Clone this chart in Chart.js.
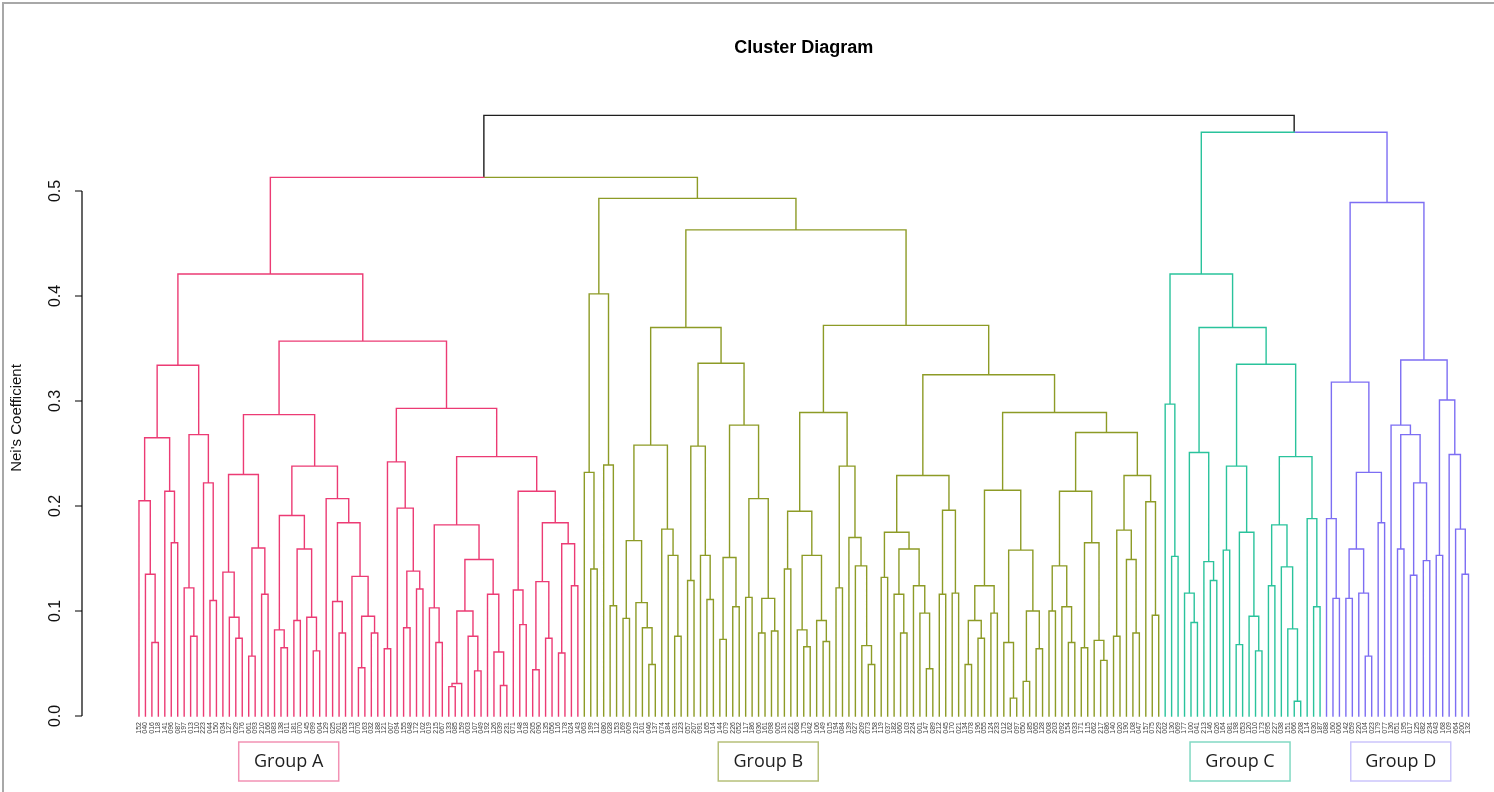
<!DOCTYPE html>
<html>
<head>
<meta charset="utf-8">
<title>Cluster Diagram</title>
<script src="https://cdn.jsdelivr.net/npm/chart.js@4.4.1/dist/chart.umd.min.js"></script>
<style>
  html, body { margin: 0; padding: 0; background: #fff; }
  #clusterChart { display: block; }
</style>
</head>
<body>
<canvas id="clusterChart" width="1494" height="792"></canvas>
<script>
// ===== Data =====
// leaf labels, left to right as they appear under the tree
const leafLabels = (
    '152 040 016 118 141 096 087 197 013 110 223 044 150 034 127 029 176 061 093 210 166 083 138 ' +
    '011 181 070 145 099 004 129 025 201 058 113 076 163 032 188 121 007 094 155 048 172 102 019 ' +
    '215 067 133 085 159 003 107 049 192 126 039 231 071 148 018 205 090 135 056 116 178 024 143 ' +
    '063 199 112 080 028 153 169 009 219 101 046 137 074 184 031 123 057 207 091 165 014 144 079 ' +
    '226 052 117 186 036 161 098 005 131 221 068 175 042 106 149 015 194 084 139 027 209 073 158 ' +
    '119 037 182 060 103 224 001 147 089 212 045 170 021 134 078 196 055 124 233 012 162 097 050 ' +
    '185 065 128 008 203 092 154 033 171 115 062 217 086 140 020 190 108 047 157 075 229 002 130 ' +
    '069 177 100 041 213 146 026 164 081 198 053 120 010 173 095 227 038 151 066 208 114 030 187 ' +
    '088 160 006 142 059 220 104 023 179 077 136 051 195 017 125 082 234 043 168 109 064 200 132'
).split(' ');

const groupNames = ['Group A', 'Group B', 'Group C', 'Group D'];

// sub-clusters: x = leaf, (left,right)h = merge at Nei's coefficient h
const a1 = '((x,(x,(x,x)0.070)0.135)0.205,(x,(x,x)0.165)0.214)0.265';
const a2 = '((x,(x,x)0.076)0.122,(x,(x,x)0.110)0.222)0.268';
const a3 = '((x,(x,(x,x)0.074)0.094)0.137,((x,x)0.057,(x,x)0.116)0.160)0.230';
const a4 = '((x,(x,x)0.065)0.082,((x,x)0.091,(x,(x,x)0.062)0.094)0.159)0.191';
const a5 = '(x,((x,(x,x)0.079)0.109,(x,((x,x)0.046,(x,x)0.079)0.095)0.133)0.184)0.207';
const a6 = '((x,x)0.064,(x,((x,x)0.084,(x,x)0.121)0.138)0.198)0.242';
const a7 = '((x,(x,x)0.070)0.103,((((x,x)0.028,x)0.031,(x,(x,x)0.043)0.076)0.100,(x,(x,(x,x)0.029)0.061)0.116)0.149)0.182';
const a8 = '((x,(x,x)0.087)0.120,(((x,x)0.044,(x,x)0.074)0.128,((x,x)0.060,(x,x)0.124)0.164)0.184)0.214';

const b1 = '((x,(x,x)0.140)0.232,(x,(x,x)0.105)0.239)0.402';
const b2 = '(((x,x)0.093,(x,(x,(x,x)0.049)0.084)0.108)0.167,(x,(x,(x,x)0.076)0.153)0.178)0.258';
const b3 = '((x,x)0.129,(x,(x,x)0.111)0.153)0.257';
const b4 = '(((x,x)0.073,(x,x)0.104)0.151,((x,x)0.113,((x,x)0.079,(x,x)0.081)0.112)0.207)0.277';
const b5 = '((x,x)0.140,((x,(x,x)0.066)0.082,(x,(x,x)0.071)0.091)0.153)0.195';
const b6 = '((x,x)0.122,(x,(x,(x,(x,x)0.049)0.067)0.143)0.170)0.238';
const b7 = '(((x,x)0.132,((x,(x,x)0.079)0.116,(x,(x,(x,x)0.045)0.098)0.124)0.159)0.175,((x,x)0.116,(x,x)0.117)0.196)0.229';
const b8 = '((((x,x)0.049,(x,x)0.074)0.091,(x,x)0.098)0.124,((x,(x,x)0.017)0.070,((x,x)0.033,(x,x)0.064)0.100)0.158)0.215';
const b9 = '((((x,x)0.100,(x,(x,x)0.070)0.104)0.143,((x,x)0.065,(x,(x,x)0.053)0.072)0.165)0.214,(((x,x)0.076,(x,(x,x)0.079)0.149)0.177,(x,(x,x)0.096)0.204)0.229)0.270';

const c1 = '(x,(x,x)0.152)0.297';
const c2 = '((x,(x,x)0.089)0.117,(x,(x,x)0.129)0.147)0.251';
const c3 = '((x,x)0.158,((x,x)0.068,(x,(x,x)0.062)0.095)0.175)0.238';
const c4 = '(((x,x)0.124,(x,(x,(x,x)0.014)0.083)0.142)0.182,(x,(x,x)0.104)0.188)0.247';

const d1 = '(x,(x,x)0.112)0.188';
const d2 = '(((x,x)0.112,(x,(x,x)0.057)0.117)0.159,(x,x)0.184)0.232';
const d3 = '(x,((x,x)0.159,((x,x)0.134,(x,x)0.148)0.222)0.268)0.277';
const d4 = '((x,x)0.153,(x,(x,(x,x)0.135)0.178)0.249)0.301';

// upper merges
const join = (l, r, h) => `(${l},${r})${h.toFixed(3)}`;
const treeA = join(join(a1, a2, 0.334), join(join(a3, join(a4, a5, 0.238), 0.287), join(a6, join(a7, a8, 0.247), 0.293), 0.357), 0.421);
const treeB = join(b1, join(join(b2, join(b3, b4, 0.336), 0.370), join(join(b5, b6, 0.289), join(b7, join(b8, b9, 0.289), 0.325), 0.372), 0.463), 0.493);
const treeC = join(c1, join(c2, join(c3, c4, 0.335), 0.370), 0.421);
const treeD = join(join(d1, d2, 0.318), join(d3, d4, 0.339), 0.489);
const treeTop = join(join('A', 'B', 0.513), join('C', 'D', 0.556), 0.572);

const yTicks = [0.0, 0.1, 0.2, 0.3, 0.4, 0.5];

// ===== Look =====
const branchColors = ['#ec3b74', '#8d9b26', '#2ac39c', '#7d6ef3'];
const boxColors = ['#f292b4', '#b6c07a', '#82d9c3', '#cbc5fb'];
const rootColor = '#1f1f1f';
const boxCenters = [23.2, 97.5, 170.6, 195.5];   // in leaf units

(() => {
    document.addEventListener('DOMContentLoaded', () => {
        const groupTrees = { A: treeA, B: treeB, C: treeC, D: treeD };
        let leafCounter = 0;

        // small recursive parser for the merge strings
        function parse(str, group) {
            let pos = 0;
            function node() {
                const ch = str[pos];
                if (ch === '(') {
                    pos++;
                    const left = node();
                    pos++; // ','
                    const right = node();
                    pos++; // ')'
                    const m = /^[0-9.]+/.exec(str.slice(pos));
                    if (!m) throw new Error('bad tree near ' + str.slice(pos, pos + 20));
                    pos += m[0].length;
                    return { children: [left, right], height: parseFloat(m[0]) };
                }
                pos++;
                if (ch === 'x') return { index: leafCounter++, height: 0, group };
                if (!groupTrees[ch]) throw new Error('bad tree char ' + ch + ' at ' + pos);
                return parse(groupTrees[ch], 'ABCD'.indexOf(ch));
            }
            return node();
        }

        const root = parse(treeTop, -1);
        if (leafCounter !== leafLabels.length) console.warn('leaf count', leafCounter, leafLabels.length);

        // place nodes: leaves at their index, merges at the midpoint of children
        function place(n) {
            if (!n.children) { n.x = n.index; return; }
            n.children.forEach(place);
            const [a, b] = n.children;
            n.x = (a.x + b.x) / 2;
            n.group = a.group === b.group ? a.group : -1;
        }
        place(root);

        // one dataset per colour, links separated by gaps
        const paths = [[], [], [], [], []];
        function collect(n) {
            if (!n.children) return;
            n.children.forEach(c => {
                const list = paths[c.group >= 0 ? c.group : 4];
                list.push({ x: c.x, y: c.height }, { x: c.x, y: n.height }, { x: n.x, y: n.height }, { x: n.x, y: null });
                collect(c);
            });
        }
        collect(root);

        const datasets = paths.map((pts, i) => ({
            label: i < 4 ? groupNames[i] : 'root',
            data: pts,
            showLine: true,
            spanGaps: false,
            borderColor: i < 4 ? branchColors[i] : rootColor,
            borderWidth: 1.4,
            borderCapStyle: 'square',
            borderJoinStyle: 'miter',
            pointRadius: 0,
            pointHoverRadius: 0,
            clip: false
        }));

        const axisFont = '"Liberation Sans", Arial, Helvetica, sans-serif';

        const decorations = {
            id: 'dendroDecor',
            beforeDraw(chart) {
                const { ctx, width, height } = chart;
                ctx.save();
                ctx.fillStyle = '#fff';
                ctx.fillRect(0, 0, width, height);
                // frame of the screenshot
                ctx.strokeStyle = '#a8a8a8';
                ctx.lineWidth = 2;
                ctx.beginPath();
                ctx.moveTo(3, height); ctx.lineTo(3, 3); ctx.lineTo(width, 3);
                ctx.stroke();
                ctx.restore();
            },
            afterDraw(chart) {
                const { ctx } = chart;
                const xs = chart.scales.x, ys = chart.scales.y;
                ctx.save();

                // title centred over the leaves
                ctx.fillStyle = '#000';
                ctx.font = 'bold 18px ' + axisFont;
                ctx.textAlign = 'center';
                ctx.textBaseline = 'middle';
                ctx.fillText('Cluster Diagram', xs.getPixelForValue((leafLabels.length - 1) / 2), 48);

                // y axis (only over the tick range, like R)
                const axisX = 82;
                const y0 = ys.getPixelForValue(yTicks[0]);
                const y1 = ys.getPixelForValue(yTicks[yTicks.length - 1]);
                ctx.strokeStyle = '#000';
                ctx.lineWidth = 1.2;
                ctx.beginPath();
                ctx.moveTo(axisX, y0); ctx.lineTo(axisX, y1);
                yTicks.forEach(t => {
                    const py = ys.getPixelForValue(t);
                    ctx.moveTo(axisX, py); ctx.lineTo(axisX - 7, py);
                });
                ctx.stroke();

                ctx.font = '16px ' + axisFont;
                ctx.fillStyle = '#111';
                yTicks.forEach(t => {
                    const py = ys.getPixelForValue(t);
                    ctx.save();
                    ctx.translate(56, py);
                    ctx.rotate(-Math.PI / 2);
                    ctx.textAlign = 'center';
                    ctx.textBaseline = 'middle';
                    ctx.fillText(t.toFixed(1), 0, 0);
                    ctx.restore();
                });

                ctx.save();
                ctx.translate(17, 418);
                ctx.rotate(-Math.PI / 2);
                ctx.font = '15px ' + axisFont;
                ctx.textAlign = 'center';
                ctx.textBaseline = 'middle';
                ctx.fillText("Nei's Coefficient", 0, 0);
                ctx.restore();

                // leaf labels
                ctx.font = '7px ' + axisFont;
                ctx.fillStyle = '#3c3c3c';
                leafLabels.forEach((lab, i) => {
                    ctx.save();
                    ctx.translate(xs.getPixelForValue(i), 722);
                    ctx.rotate(-Math.PI / 2);
                    ctx.textAlign = 'right';
                    ctx.textBaseline = 'middle';
                    ctx.fillText(lab, 0, 0);
                    ctx.restore();
                });

                // group boxes
                ctx.font = '18px "Open Sans", "Noto Sans", sans-serif';
                groupNames.forEach((name, i) => {
                    const cx = xs.getPixelForValue(boxCenters[i]);
                    ctx.strokeStyle = boxColors[i];
                    ctx.lineWidth = 1.5;
                    ctx.strokeRect(cx - 50, 742, 100, 39);
                    ctx.fillStyle = '#1e1e1e';
                    ctx.textAlign = 'center';
                    ctx.textBaseline = 'middle';
                    ctx.fillText(name, cx, 762);
                });

                ctx.restore();
            }
        };

        new Chart(document.getElementById('clusterChart'), {
            type: 'scatter',
            data: { datasets },
            options: {
                responsive: false,
                animation: false,
                devicePixelRatio: 1,
                layout: { padding: { left: 86, right: 0, top: 86, bottom: 76 } },
                scales: {
                    x: { type: 'linear', min: -8.21, max: 209.95, display: false },
                    y: { type: 'linear', min: 0, max: 0.6, display: false }
                },
                plugins: { legend: { display: false }, tooltip: { enabled: false }, title: { display: false } },
                events: []
            },
            plugins: [decorations]
        });
    });
})();
</script>
</body>
</html>
